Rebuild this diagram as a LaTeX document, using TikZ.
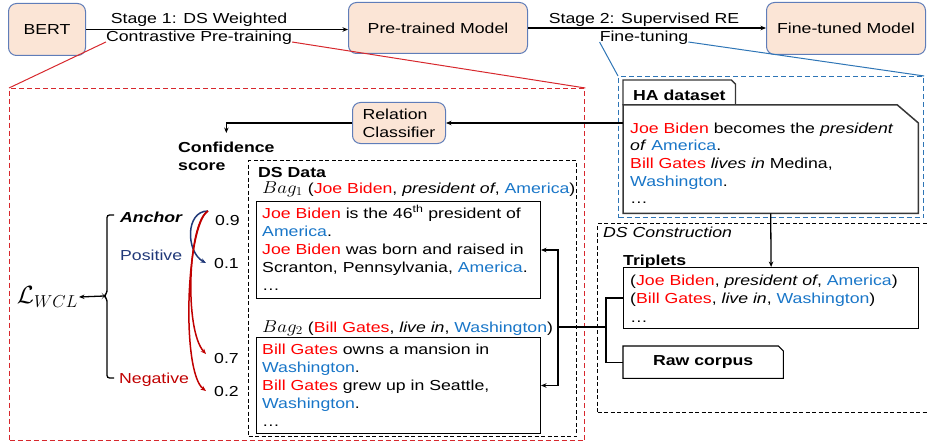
\documentclass[tikz,border=0pt]{standalone}
\usepackage{fontspec}
\setmainfont[FakeStretch=1.22]{Liberation Sans}
\usetikzlibrary{arrows.meta}
\definecolor{peach}{RGB}{251,229,214}
\definecolor{peachline}{RGB}{95,125,185}
\definecolor{zoomred}{RGB}{215,40,45}
\definecolor{zoomblue}{RGB}{46,117,182}
\definecolor{entred}{RGB}{255,0,0}
\definecolor{entblue}{RGB}{25,118,200}
\definecolor{posblue}{RGB}{32,56,120}
\definecolor{negred}{RGB}{192,0,0}
\definecolor{boxgray}{RGB}{55,55,55}
\newcommand\entr[1]{\textcolor{entred}{#1}}
\newcommand\entb[1]{\textcolor{entblue}{#1}}
\newcommand\mainsz{\fontsize{14.5}{18}\selectfont}
\newcommand\topstrut{\rule{0pt}{15pt}}
\newcommand\bagm[1]{\scalebox{1.1}[1]{\fontsize{16.5}{18}\selectfont$Bag_{#1}$}}
\begin{document}
\begin{tikzpicture}[x=1pt,y=-1pt, >={Stealth[length=5.5pt,width=4.5pt]},
  every node/.style={font=\mainsz, inner sep=0pt},
  txt/.style={anchor=base west},
  stagebox/.style={draw=peachline, fill=peach, rounded corners=8pt, line width=1pt, anchor=north west},
  plainbox/.style={draw=black, line width=1pt, anchor=north west},
  lines/.style={anchor=north west, align=left},
  conn/.style={line width=1.3pt, ->},
  curvearrow/.style={line width=1.5pt, ->},
]
\useasboundingbox (0,0) rectangle (927,444);

% ---------- top row ----------
\node[stagebox, minimum width=77pt, minimum height=52pt] (bert) at (8,3) {BERT};
\node[stagebox, minimum width=179pt, minimum height=51pt] (pre) at (348,2) {Pre-trained Model};
\node[stagebox, minimum width=159pt, minimum height=52pt] (fine) at (766,2) {Fine-tuned Model};
\draw[conn] (bert.east) -- (bert.east -| pre.west);
\draw[conn] (pre.east) -- (pre.east -| fine.west);
\node[anchor=base] (s1a) at (199,24) {Stage 1: DS Weighted};
\node[anchor=base] (s1b) at (199,42) {Contrastive Pre-training};
\node[anchor=base] (s2a) at (644,24) {Stage 2: Supervised RE};
\node[anchor=base] (s2b) at (644,42) {Fine-tuning};

% ---------- zoom frames ----------
\node[draw=zoomred, line width=1.3pt, dash pattern=on 5pt off 3pt, anchor=north west,
      minimum width=575pt, minimum height=352pt] (redbox) at (9,88) {};
\node[draw=zoomblue, line width=1.2pt, dash pattern=on 5pt off 3pt, anchor=north west,
      minimum width=305pt, minimum height=141pt] (bluebox) at (618,76) {};
\draw[zoomred, line width=1pt] (s1b.base west) -- (redbox.north west);
\draw[zoomred, line width=1pt] (s1b.base east) -- (redbox.north east);
\draw[zoomblue, line width=1pt] (s2b.base west) -- (bluebox.north west);
\draw[zoomblue, line width=1pt] (s2b.base east) -- (bluebox.north east);

% ---------- HA dataset ----------
\node[anchor=north west, minimum width=112pt, minimum height=25pt] (hatab) at (623,80) {};
\node[anchor=north west, minimum width=295pt, minimum height=108pt] (hamain) at (623,105) {};
\draw[boxgray, line width=1.3pt] (hatab.south west) -- (hatab.north west) -- ([xshift=-4pt]hatab.north east) -- ([yshift=-4pt]hatab.north east) -- (hatab.south east);
\draw[boxgray, line width=1.5pt, fill=white] (hamain.south west) -- (hamain.north west) -- ([xshift=-21pt]hamain.north east) -- ([yshift=-18pt]hamain.north east) -- (hamain.south east) -- cycle;
\node[txt, font=\mainsz\bfseries] (halabel) at (633,100) {HA dataset};
\node[lines, font=\fontsize{14.5}{17.6}\selectfont] (hatext) at (630,118) {\topstrut\entr{Joe Biden} becomes the \textit{president}\\ \textit{of} \entb{America}.\\ \entr{Bill Gates} \textit{lives in} Medina,\\ \entb{Washington}.\\ \dots};

% ---------- relation classifier ----------
\node[stagebox, minimum width=93pt, minimum height=41pt, align=left] (rc) at (352,102) {Relation\\Classifier};
\node[lines, font=\mainsz\bfseries] (conf) at (178,137) {\topstrut Confidence\\score};
\draw[conn] (rc.east -| hamain.west) -- (rc.east);
\draw[conn] (rc.west) -| ([yshift=4pt]conf.north);

% ---------- DS construction ----------
\node[draw, line width=1.1pt, dash pattern=on 4pt off 2.5pt, anchor=north west,
      minimum width=330pt, minimum height=189pt] (dscons) at (597,223) {};
\node[txt, font=\mainsz\itshape] (dsconslabel) at (603,237) {DS Construction};
\node[txt, font=\mainsz\bfseries] (triplabel) at (623,265) {Triplets};
\node[plainbox, line width=1.2pt, minimum width=295pt, minimum height=61pt] (trip) at (623,267) {};
\node[lines, font=\fontsize{14.5}{18.5}\selectfont] (triptext) at (630,270) {\topstrut(\entr{Joe Biden}, \textit{president of}, \entb{America})\\ (\entr{Bill Gates}, \textit{live in}, \entb{Washington})\\ \dots};
\node[anchor=north west, minimum width=160pt, minimum height=32pt, font=\mainsz\bfseries] (raw) at (623,346) {Raw corpus};
\draw[line width=1.1pt] (raw.south west) -- (raw.north west) -- ([xshift=-5pt]raw.north east) -- ([yshift=-5pt]raw.north east) -- (raw.south east) -- cycle;
\draw[conn] (hamain.south) -- (trip.north);
\coordinate (dsj) at (606,327);
\coordinate (bj) at (558,327);
\draw[line width=1.3pt] (trip.west) -| (dsj) |- (raw.west);
\draw[line width=1.3pt] (dsj) -- (bj);

% ---------- DS data ----------
\node[draw, line width=1.1pt, dash pattern=on 4pt off 2.5pt, anchor=north west,
      minimum width=328pt, minimum height=276pt] (dsdata) at (248,160) {};
\node[txt, font=\mainsz\bfseries] (dslabel) at (258,177) {DS Data};
\node[txt] (bag1l) at (262,193) {\bagm{1} (\entr{Joe Biden}, \textit{president of}, \entb{America})};
\node[plainbox, minimum width=284pt, minimum height=97pt] (bag1) at (256,201) {};
\node[lines] (bag1t) at (262,203) {\topstrut\entr{Joe Biden} is the 46\textsuperscript{th} president of\\ \entb{America}.\\ \entr{Joe Biden} was born and raised in\\ Scranton, Pennsylvania, \entb{America}.\\ \dots};
\node[txt] (bag2l) at (262,332) {\bagm{2} (\entr{Bill Gates}, \textit{live in}, \entb{Washington})};
\node[plainbox, minimum width=284pt, minimum height=96pt] (bag2) at (256,337) {};
\node[lines] (bag2t) at (262,339) {\topstrut\entr{Bill Gates} owns a mansion in\\ \entb{Washington}.\\ \entr{Bill Gates} grew up in Seattle,\\ \entb{Washington}.\\ \dots};
\draw[conn] (bj) |- (bag1.east);
\draw[conn] (bj) |- (bag2.east);

% ---------- loss part ----------
\node[anchor=east, font=\fontsize{24}{24}\selectfont, inner sep=1pt] (lwcl) at (79,297) {$\mathcal{L}_{WCL}$};
\node[txt, font=\mainsz\bfseries\itshape] (anc) at (120,222) {Anchor};
\node[txt, text=posblue] (pos) at (120,260) {Positive};
\node[txt, text=negred] (neg) at (119,383) {Negative};
\node[txt] (s09) at (215,225) {0.9};
\node[txt] (s01) at (214,268) {0.1};
\node[txt] (s07) at (214,363) {0.7};
\node[txt] (s02) at (214,396) {0.2};
\draw[line width=1.3pt, rounded corners=2.5pt] (114,215) -- (107,215) -- (107,293) -- (104,296) -- (107,299) -- (107,378) -- (114,378);
\coordinate (brtip) at (104,296);
\draw[conn] (brtip) -- (lwcl.east);
\coordinate (cst) at (208,211);
\draw[curvearrow, posblue] (cst) .. controls (185,211) and (186,252) .. ([xshift=-8pt]s01.west);
\draw[curvearrow, negred] (cst) .. controls (188,222) and (184,330) .. ([shift={(-8pt,4pt)}]s07.west);
\draw[curvearrow, negred] (cst) .. controls (186,225) and (181,372) .. ([xshift=-8pt]s02.west);
\end{tikzpicture}
\end{document}
